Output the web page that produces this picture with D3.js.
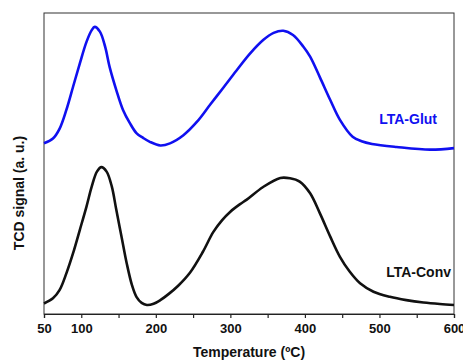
<!DOCTYPE html>
<html>
<head>
<meta charset="utf-8">
<script src="https://cdn.jsdelivr.net/npm/d3@7.9.0/dist/d3.min.js"></script>
<style>
  body { margin: 0; background: #fff; }
  svg { display: block; font-family: "Liberation Sans", Arial, sans-serif; }
  .tick text { font-size: 13px; font-weight: bold; }
</style>
</head>
<body>
<svg id="chart" width="463" height="361"></svg>
<script>
// LTA-Glut trace (temperature in ºC, signal in arbitrary units)
const glutTemp = [50, 62, 71, 80, 89, 98, 107, 114, 118, 125, 132, 138, 147, 156, 165, 174, 183, 192, 206, 219, 237, 255, 273, 290, 308, 326, 344, 358, 371, 384, 398, 407, 420, 434, 447, 464, 476, 490, 523, 568, 600];
const glutSignal = [56.7, 58.3, 61.6, 67.8, 75.5, 83.2, 90.4, 94.3, 95.4, 93.8, 88.8, 82.1, 74.4, 67.8, 63.5, 60.1, 58.5, 57.2, 56.0, 56.7, 59.4, 63.8, 69.6, 75.0, 80.8, 86.4, 91.0, 93.4, 94.1, 92.7, 88.8, 85.5, 78.7, 71.1, 64.5, 58.9, 57.4, 56.5, 55.5, 54.6, 55.1];

// LTA-Conv trace
const convTemp = [50, 62, 71, 80, 89, 98, 107, 114, 121, 127, 134, 141, 147, 154, 161, 168, 174, 181, 188, 197, 206, 217, 230, 246, 263, 277, 289, 300, 313, 322, 344, 367, 380, 393, 407, 420, 434, 447, 460, 474, 492, 514, 536, 559, 581, 600];
const convSignal = [3.5, 5.2, 8.0, 13.5, 20.2, 27.9, 35.7, 42.3, 47.3, 48.8, 47.3, 42.3, 34.6, 25.7, 16.8, 9.6, 5.7, 3.7, 3.0, 3.4, 4.6, 6.6, 9.4, 13.8, 20.6, 27.2, 31.2, 34.0, 36.5, 38.0, 42.2, 45.2, 45.1, 44.0, 40.1, 33.5, 25.7, 19.0, 14.1, 10.2, 7.4, 5.7, 4.6, 3.8, 3.3, 3.0];

const tickValues = [50, 100, 150, 200, 250, 300, 350, 400, 450, 500, 550, 600];
const tickLabels = [50, 100, 200, 300, 400, 500, 600];

const svg = d3.select('#chart');
const margin = { left: 44, right: 9, top: 13, bottom: 47 };
const width = 463 - margin.left - margin.right;
const height = 361 - margin.top - margin.bottom;

const g = svg.append('g').attr('transform', `translate(${margin.left},${margin.top})`);

const x = d3.scaleLinear().domain([50, 600]).range([0, width]);
const y = d3.scaleLinear().domain([0, 100]).range([height, 0]);

// frame
g.append('rect')
  .attr('width', width).attr('height', height)
  .attr('fill', 'none').attr('stroke', '#333').attr('stroke-width', 1);

const xAxis = g.append('g')
  .attr('transform', `translate(0,${height})`)
  .call(d3.axisBottom(x)
    .tickValues(tickValues)
    .tickSize(4)
    .tickFormat(d => tickLabels.includes(d) ? d : ''));
xAxis.select('.domain').attr('stroke', '#222').attr('stroke-width', 1.2);
xAxis.selectAll('.tick line').attr('stroke', '#222').attr('stroke-width', 1.2);
xAxis.selectAll('.tick text').attr('y', 7).attr('dy', '0.95em').attr('fill', '#111');

const line = d3.line()
  .x(d => x(d[0]))
  .y(d => y(d[1]))
  .curve(d3.curveCatmullRom.alpha(0.5));

g.append('path')
  .datum(d3.zip(glutTemp, glutSignal))
  .attr('d', line)
  .attr('fill', 'none').attr('stroke', '#1010f0').attr('stroke-width', 2.6)
  .attr('stroke-linejoin', 'round');

g.append('path')
  .datum(d3.zip(convTemp, convSignal))
  .attr('d', line)
  .attr('fill', 'none').attr('stroke', '#111').attr('stroke-width', 2.6)
  .attr('stroke-linejoin', 'round');

// series labels
svg.append('text')
  .attr('x', 437).attr('y', 124)
  .attr('text-anchor', 'end').attr('font-size', 14).attr('font-weight', 'bold')
  .attr('fill', '#1010f0').text('LTA-Glut');

svg.append('text')
  .attr('x', 451).attr('y', 277)
  .attr('text-anchor', 'end').attr('font-size', 14).attr('font-weight', 'bold')
  .attr('fill', '#111').text('LTA-Conv');

// axis titles
svg.append('text')
  .attr('x', 249).attr('y', 357)
  .attr('text-anchor', 'middle').attr('font-size', 14).attr('font-weight', 'bold')
  .attr('fill', '#111').text('Temperature (ºC)');

svg.append('text')
  .attr('transform', `translate(24,193) rotate(-90)`)
  .attr('text-anchor', 'middle').attr('font-size', 14).attr('font-weight', 'bold')
  .attr('fill', '#111').text('TCD signal (a. u.)');
</script>
</body>
</html>
